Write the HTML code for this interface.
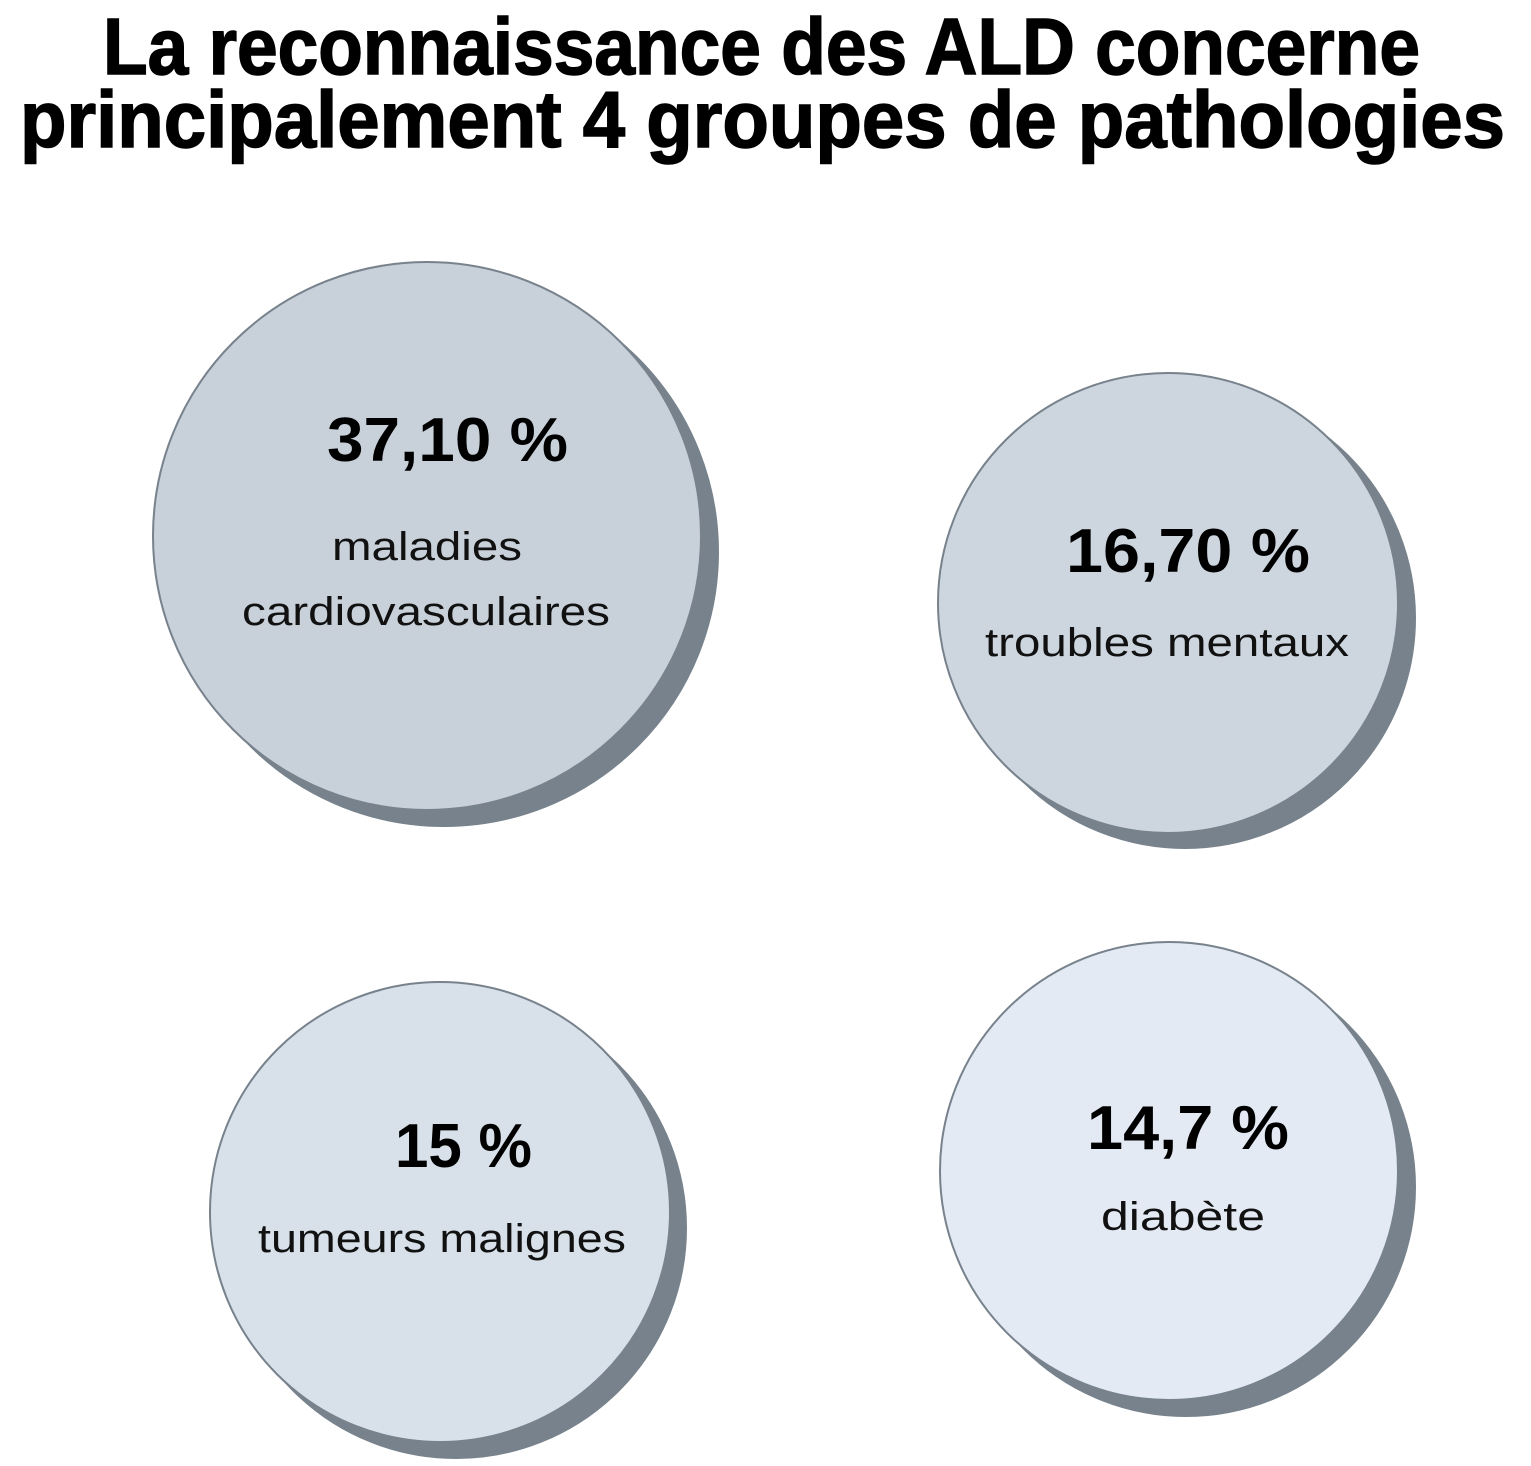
<!DOCTYPE html>
<html><head><meta charset="utf-8"><style>html,body{margin:0;padding:0;background:#fff}svg{display:block}</style></head>
<body>
<svg width="1531" height="1466" viewBox="0 0 1531 1466" xmlns="http://www.w3.org/2000/svg" font-family="Liberation Sans, sans-serif">
<g font-weight="bold" font-size="80" fill="#000" stroke="#000" stroke-width="1.5">
<text x="103" y="74" textLength="1317" lengthAdjust="spacingAndGlyphs">La reconnaissance des ALD concerne</text>
<text x="20" y="147" textLength="1485" lengthAdjust="spacingAndGlyphs">principalement 4 groupes de pathologies</text>
</g>
<g stroke="#77828c" stroke-width="2">
<circle cx="444" cy="552" r="274" fill="#77828c"/>
<circle cx="427" cy="536" r="274" fill="#c8d0d9"/>
<circle cx="1185" cy="618" r="230" fill="#77828c"/>
<circle cx="1168" cy="603" r="230" fill="#cdd6df"/>
<circle cx="456" cy="1228" r="230" fill="#77828c"/>
<circle cx="440" cy="1212" r="230" fill="#d8e1ea"/>
<circle cx="1186" cy="1187" r="229" fill="#77828c"/>
<circle cx="1169" cy="1171" r="229" fill="#e3eaf4"/>
</g>
<g font-weight="bold" font-size="62" fill="#000">
<text x="327" y="461" textLength="241" lengthAdjust="spacingAndGlyphs">37,10 %</text>
<text x="1066" y="572" textLength="244" lengthAdjust="spacingAndGlyphs">16,70 %</text>
<text x="395" y="1167" textLength="137" lengthAdjust="spacingAndGlyphs">15 %</text>
<text x="1087" y="1149" textLength="202" lengthAdjust="spacingAndGlyphs">14,7 %</text>
</g>
<g font-size="40" fill="#111">
<text x="332" y="560" textLength="190" lengthAdjust="spacingAndGlyphs">maladies</text>
<text x="242" y="625" textLength="368" lengthAdjust="spacingAndGlyphs">cardiovasculaires</text>
<text x="985" y="656" textLength="364" lengthAdjust="spacingAndGlyphs">troubles mentaux</text>
<text x="258" y="1252" textLength="368" lengthAdjust="spacingAndGlyphs">tumeurs malignes</text>
<text x="1101" y="1230" textLength="164" lengthAdjust="spacingAndGlyphs">diabète</text>
</g>
</svg>
</body></html>
